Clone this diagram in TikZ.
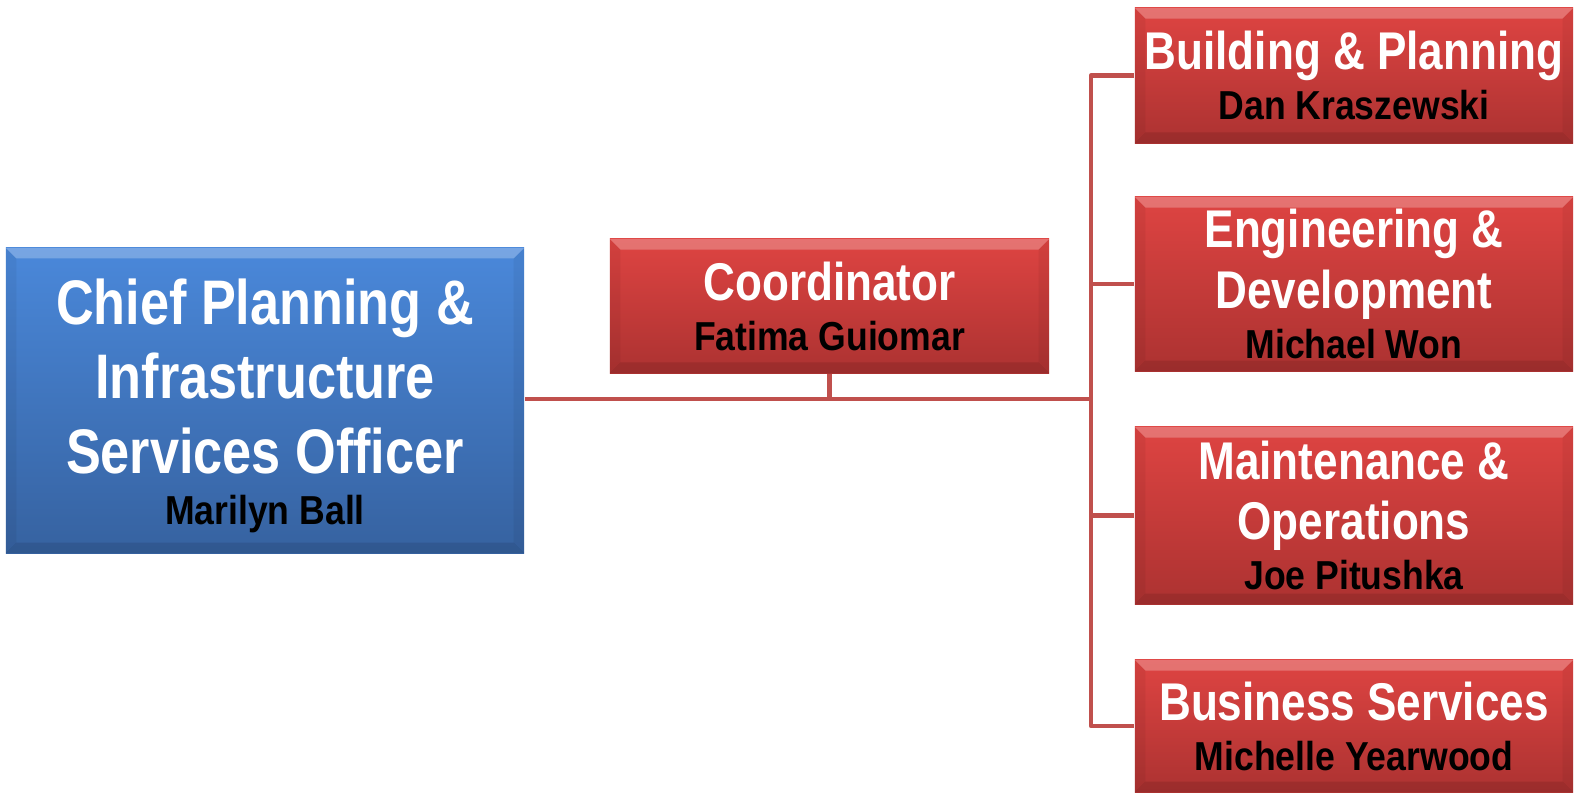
\documentclass[tikz,border=0pt]{standalone}
\usepackage{fontspec}
\setmainfont{Liberation Sans}[FakeStretch=0.83]
\newfontfamily\namefamily{Liberation Sans}[FakeStretch=0.88]

\definecolor{bluetop}{RGB}{74,136,218}
\definecolor{bluebot}{RGB}{54,98,160}
\definecolor{redtop}{RGB}{222,68,66}
\definecolor{redbot}{RGB}{172,50,49}
\definecolor{linkred}{RGB}{192,80,77}

\tikzset{
  px/.style={x=0.01cm,y=-0.01cm},
  bevel/.style={path picture={
    \coordinate (nw) at (path picture bounding box.north west);
    \coordinate (ne) at (path picture bounding box.north east);
    \coordinate (sw) at (path picture bounding box.south west);
    \coordinate (se) at (path picture bounding box.south east);
    \fill[white,opacity=0.25] (nw) -- (ne) -- ([shift={(-3pt,-3pt)}]ne) -- ([shift={(3pt,-3pt)}]nw) -- cycle;
    \fill[black,opacity=0.10] (sw) -- (se) -- ([shift={(-3pt,3pt)}]se) -- ([shift={(3pt,3pt)}]sw) -- cycle;
    \fill[black,opacity=0.05] (nw) -- ([shift={(3pt,-3pt)}]nw) -- ([shift={(3pt,3pt)}]sw) -- (sw) -- cycle;
    \fill[black,opacity=0.05] (ne) -- ([shift={(-3pt,-3pt)}]ne) -- ([shift={(-3pt,3pt)}]se) -- (se) -- cycle;
  }},
  box/.style={rectangle, inner sep=0pt, align=center, text=white, bevel},
  bluebox/.style={box, top color=bluetop, bottom color=bluebot},
  redbox/.style={box, top color=redtop, bottom color=redbot,
    minimum width=4.38cm, font=\fontsize{15.1}{17.2}\selectfont\bfseries},
  link/.style={draw=linkred, line width=0.045cm, line join=round},
}
\newcommand{\pname}[1]{\namefamily\fontsize{11.5}{13}\selectfont\color{black}#1}

\begin{document}
\begin{tikzpicture}[px]
  \useasboundingbox (0,0) rectangle (1577,794);

  % head of the unit
  \node[bluebox, minimum width=5.18cm, minimum height=3.05cm,
        font=\fontsize{17.9}{21.2}\selectfont\bfseries] (chief) at (265,400.5)
    {\rule{0pt}{16pt}Chief Planning \&\\Infrastructure\\Services Officer\\[-6.7pt]
     \pname{Marilyn Ball}};

  % staff position
  \node[redbox, minimum width=4.39cm, minimum height=1.34cm] (coord) at (829.5,306)
    {Coordinator\\[-3pt]\pname{Fatima Guiomar}};

  % departments
  \node[redbox, minimum height=1.35cm] (bp) at (1354,75.5)
    {Building \& Planning\\[-3pt]\pname{Dan Kraszewski}};
  \node[redbox, minimum height=1.74cm] (ed) at (1354,284)
    {Engineering \&\\Development\\[-3pt]\pname{Michael Won}};
  \node[redbox, minimum height=1.77cm] (mo) at (1354,515.5)
    {Maintenance \&\\Operations\\[-3pt]\pname{Joe Pitushka}};
  \node[redbox, minimum height=1.32cm] (bs) at (1354,726)
    {Business Services\\[-3pt]\pname{Michelle Yearwood}};

  % connectors
  \coordinate (jn) at (1091,399);
  \draw[link] (chief.east |- jn) -- (jn);
  \draw[link] (coord.south) -- (coord.south |- jn);
  \draw[link] (bp.west) -- (bp.west -| jn) -- (bs.west -| jn) -- (bs.west);
  \draw[link] (ed.west) -- (ed.west -| jn);
  \draw[link] (mo.west) -- (mo.west -| jn);
\end{tikzpicture}
\end{document}
